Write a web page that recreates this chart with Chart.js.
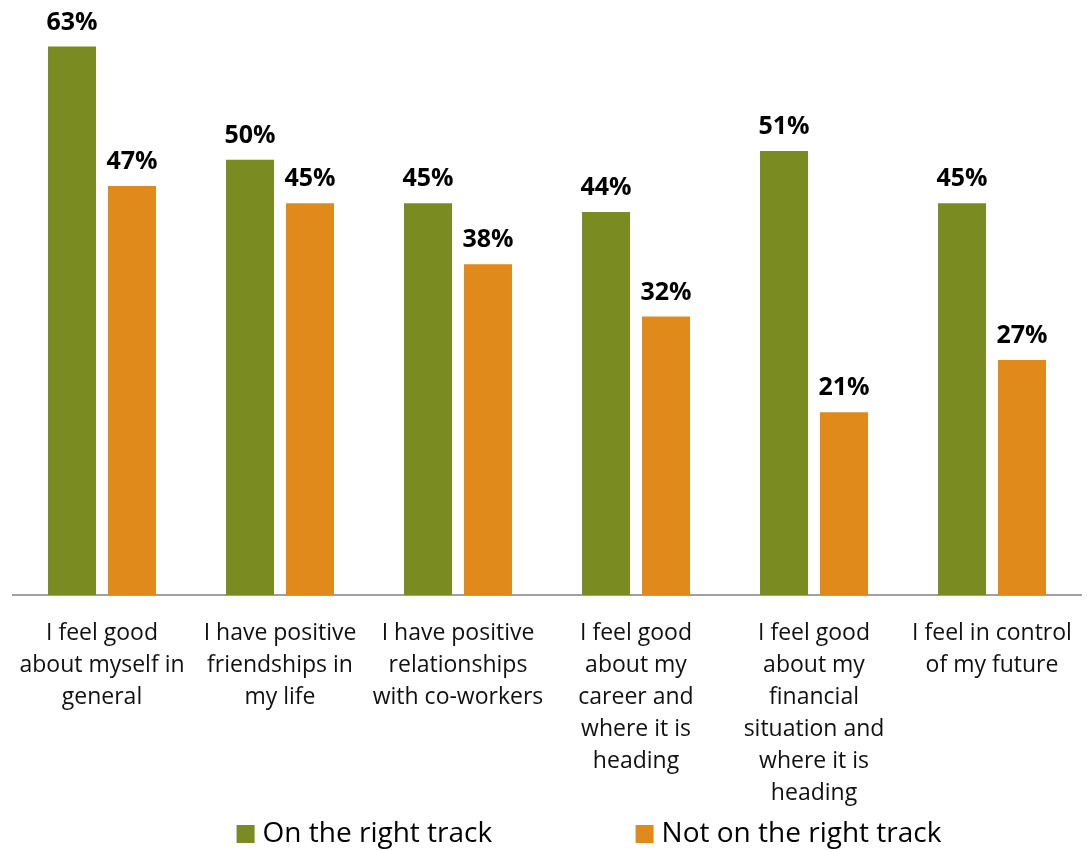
<!DOCTYPE html>
<html>
<head>
<meta charset="utf-8">
<script src="https://cdn.jsdelivr.net/npm/chart.js@4.4.1/dist/chart.umd.min.js"></script>
<style>
  html, body { margin: 0; padding: 0; background: #fff; }
  #wrap { width: 1087px; height: 850px; position: relative; }
</style>
</head>
<body>
<div id="wrap"><canvas id="trackChart"></canvas></div>
<script>
var categories = [
    ["I feel good", "about myself in", "general"],
    ["I have positive", "friendships in", "my life"],
    ["I have positive", "relationships", "with co-workers"],
    ["I feel good", "about my", "career and", "where it is", "heading"],
    ["I feel good", "about my", "financial", "situation and", "where it is", "heading"],
    ["I feel in control", "of my future"]
];
var onTrack = [63, 50, 45, 44, 51, 45];
var notOnTrack = [47, 45, 38, 32, 21, 27];
var seriesNames = ["On the right track", "Not on the right track"];

var GREEN = '#7A8C21';
var ORANGE = '#E08A1B';
var FONT = "'Open Sans', sans-serif";

// percent labels above each bar
var valueLabels = {
    id: 'valueLabels',
    afterDatasetsDraw: function (chart) {
        var ctx = chart.ctx;
        ctx.save();
        ctx.font = "bold 25px " + FONT;
        ctx.fillStyle = '#000';
        ctx.textAlign = 'center';
        ctx.textBaseline = 'alphabetic';
        chart.data.datasets.forEach(function (ds, i) {
            chart.getDatasetMeta(i).data.forEach(function (bar, j) {
                ctx.fillText(ds.data[j] + '%', bar.x, bar.y - 17);
            });
        });
        ctx.restore();
    }
};

// legend drawn at the bottom with wide spacing between the two entries
var bottomLegend = {
    id: 'bottomLegend',
    afterDraw: function (chart) {
        var ctx = chart.ctx;
        var step = 399, box = 18, gap = 8, y = 834;
        ctx.save();
        ctx.font = "28px " + FONT;
        ctx.textBaseline = 'middle';
        var lastW = ctx.measureText(chart.data.datasets[1].label).width;
        var total = step + box + gap + lastW;
        var x0 = 589 - total / 2;
        chart.data.datasets.forEach(function (ds, i) {
            var x = x0 + i * step;
            ctx.fillStyle = ds.backgroundColor;
            ctx.fillRect(x, y - box / 2, box, box);
            ctx.fillStyle = '#000';
            ctx.fillText(ds.label, x + box + gap, y);
        });
        ctx.restore();
    }
};

new Chart(document.getElementById('trackChart'), {
    type: 'bar',
    data: {
        labels: categories,
        datasets: [
            { label: seriesNames[0], data: onTrack, backgroundColor: GREEN },
            { label: seriesNames[1], data: notOnTrack, backgroundColor: ORANGE }
        ]
    },
    options: {
        responsive: true,
        maintainAspectRatio: false,
        animation: false,
        categoryPercentage: 0.674,
        barPercentage: 0.8,
        layout: { padding: { top: 3, left: 13, right: 6, bottom: 27 } },
        plugins: {
            legend: { display: false },
            tooltip: { enabled: false }
        },
        scales: {
            y: { display: false, min: 0, max: 68 },
            x: {
                grid: { display: false },
                border: { display: true, color: '#A0A0A0', width: 2 },
                ticks: {
                    color: '#111',
                    font: { family: FONT, size: 23, lineHeight: 1.39 },
                    padding: 14,
                    maxRotation: 0,
                    autoSkip: false
                }
            }
        }
    },
    plugins: [valueLabels, bottomLegend]
});
</script>
</body>
</html>
